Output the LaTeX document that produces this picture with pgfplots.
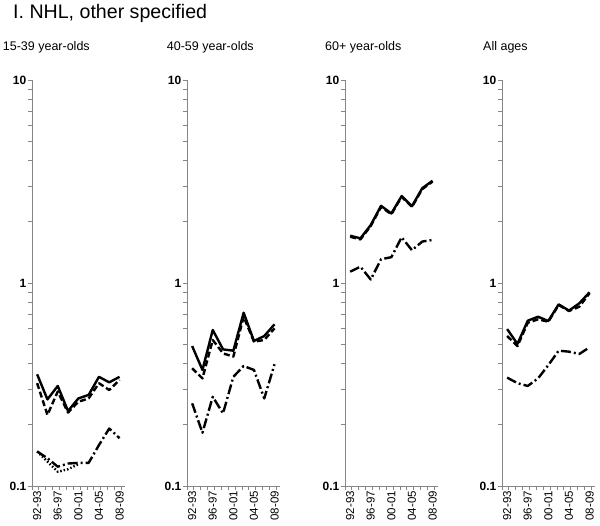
\documentclass[border=0pt]{standalone}
\usepackage{fontspec}
\setmainfont{Liberation Sans}
\usepackage{pgfplots}
\usepackage{pgfplotstable}
\pgfplotsset{compat=1.18}
\definecolor{axgray}{RGB}{134,134,134}

\pgfplotstableread{
x a b c d
0 0.355 0.321 0.148 0.148
1 0.267 0.224 0.137 0.132
2 0.311 0.292 0.1245 0.1175
3 0.234 0.230 0.129 0.121
4 0.270 0.260 0.130 0.128
5 0.281 0.270 0.130 nan
6 0.345 0.321 0.159 nan
7 0.324 0.297 0.192 nan
8 0.345 0.333 0.172 nan
}\tabA
\pgfplotstableread{
x a b c
0 0.489 0.380 0.2555
1 0.373 0.339 0.183
2 0.587 0.524 0.275
3 0.471 0.450 0.228
4 0.464 0.434 0.345
5 0.714 0.682 0.390
6 0.518 0.514 0.373
7 0.548 0.524 0.270
8 0.626 0.598 0.398
}\tabB
\pgfplotstableread{
x a b c
0 1.71 1.69 1.137
1 1.66 1.64 1.203
2 1.93 1.91 1.04
3 2.40 2.37 1.31
4 2.20 2.18 1.34
5 2.68 2.66 1.68
6 2.39 2.37 1.45
7 2.93 2.90 1.60
8 3.19 3.16 1.63
}\tabC
\pgfplotstableread{
x a b c
0 0.593 0.548 0.342
1 0.501 0.489 0.321
2 0.652 0.637 0.311
3 0.682 0.662 0.339
4 0.650 0.645 0.394
5 0.785 0.779 0.464
6 0.731 0.728 0.459
7 0.794 0.764 0.447
8 0.900 0.890 0.482
}\tabD

\pgfplotsset{
  mypanel/.style={
    scale only axis, width=92.7pt, height=406pt,
    ymin=0.1, ymax=10,
    xmin=-0.5, xmax=8.5,
    axis x line=bottom, axis y line=left,
    axis line style={-, draw=axgray, line width=0.9pt},
    tick align=outside,
    ytick={0.1,1,10}, yticklabels={\textbf{0.1},\textbf{1},\textbf{10}},
    yticklabel style={font=\fontsize{12}{13}\selectfont, inner sep=1.5pt},
    xtick={0,2,4,6,8}, xticklabels={\textrm{92-93},\textrm{96-97},\textrm{00-01},\textrm{04-05},\textrm{08-09}},
    xticklabel style={rotate=90, anchor=east, font=\fontsize{11.5}{12}\selectfont, inner sep=1pt},
    minor xtick={-0.5,0.1667,0.8333,1.5,2.1667,2.8333,3.5,4.1667,4.8333,5.5,6.1667,6.8333,7.5,8.1667},
    major x tick style={draw=none},
    tick style={axgray, line width=0.8pt},
    major tick length=4pt, minor tick length=4pt,
  },
}
\tikzset{
  s1/.style={black, line width=2.4pt, line join=round},
  s2/.style={black, line width=2.4pt, line join=round, dash pattern=on 6pt off 3pt},
  s3/.style={black, line width=2.4pt, line join=round, dash pattern=on 10pt off 3pt on 2pt off 3pt},
  s4/.style={black, line width=2.4pt, line join=round, dash pattern=on 1.5pt off 2pt},
}

\begin{document}
\begin{tikzpicture}
\useasboundingbox (0,0) rectangle (600pt,526pt);
\node[anchor=base west, inner sep=0pt, font=\fontsize{19.6}{22}\selectfont] at (13pt,507.7pt) {I. NHL, other specified};
\node[anchor=base west, inner sep=0pt, font=\fontsize{12.5}{14}\selectfont] at (2.7pt,475.3pt) {15-39 year-olds};
\node[anchor=base west, inner sep=0pt, font=\fontsize{12.5}{14}\selectfont] at (166.7pt,475.3pt) {40-59 year-olds};
\node[anchor=base west, inner sep=0pt, font=\fontsize{12.5}{14}\selectfont] at (325pt,475.3pt) {60+ year-olds};
\node[anchor=base west, inner sep=0pt, font=\fontsize{12.5}{14}\selectfont] at (483pt,475.3pt) {All ages};

\begin{semilogyaxis}[mypanel, at={(32pt,40pt)}, anchor=south west]
\addplot[s4] table[x=x,y=d] {\tabA};
\addplot[s3] table[x=x,y=c] {\tabA};
\addplot[s2] table[x=x,y=b] {\tabA};
\addplot[s1] table[x=x,y=a] {\tabA};
\end{semilogyaxis}

\begin{semilogyaxis}[mypanel, at={(187pt,40pt)}, anchor=south west]
\addplot[s3] table[x=x,y=c] {\tabB};
\addplot[s2] table[x=x,y=b] {\tabB};
\addplot[s1] table[x=x,y=a] {\tabB};
\end{semilogyaxis}

\begin{semilogyaxis}[mypanel, at={(345pt,40pt)}, anchor=south west]
\addplot[s3] table[x=x,y=c] {\tabC};
\addplot[s2] table[x=x,y=b] {\tabC};
\addplot[s1] table[x=x,y=a] {\tabC};
\end{semilogyaxis}

\begin{semilogyaxis}[mypanel, at={(502pt,40pt)}, anchor=south west]
\addplot[s3] table[x=x,y=c] {\tabD};
\addplot[s2] table[x=x,y=b] {\tabD};
\addplot[s1] table[x=x,y=a] {\tabD};
\end{semilogyaxis}
\end{tikzpicture}
\end{document}
